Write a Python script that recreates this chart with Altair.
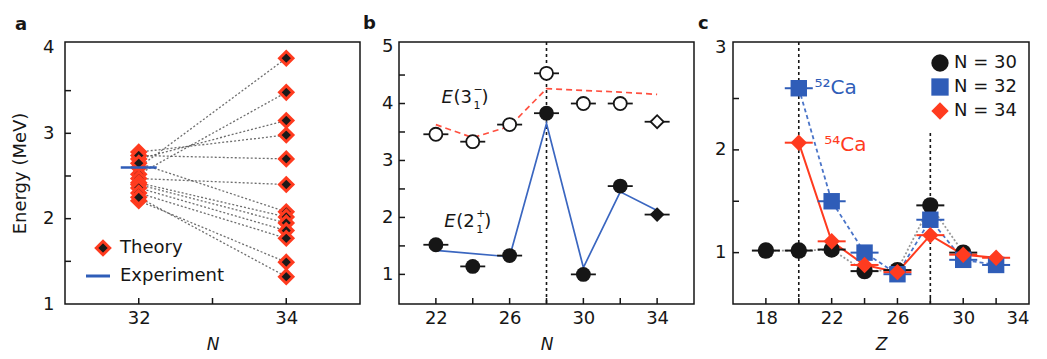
import altair as alt
import pandas as pd

FONT = "DejaVu Sans"

# ---------------- Panel a data ----------------
theory_N = [32, 34]
theory_32 = [2.60, 2.52, 2.70, 2.78, 2.74, 2.47, 2.65, 2.42, 2.40, 2.36, 2.30, 2.21, 2.25]
theory_34 = [3.88, 3.48, 3.15, 2.98, 2.70, 2.40, 2.08, 2.02, 1.95, 1.86, 1.77, 1.49, 1.32]
exp_N = [32]
exp_E = [2.60]

# ---------------- Panel b data ----------------
b_N = [22, 24, 26, 28, 30, 32, 34]
b_E3_exp = [3.46, 3.33, 3.63, 4.53, 4.00, 4.00, 3.68]
b_E2_exp = [1.52, 1.14, 1.33, 3.83, 1.00, 2.55, 2.05]
b_E3_th_N = [22, 24, 26, 28, 30, 32, 34]
b_E3_th = [3.63, 3.40, 3.60, 4.26, 4.23, 4.20, 4.16]
b_E2_th_N = [22, 26, 28, 30, 32, 34]
b_E2_th = [1.42, 1.31, 3.65, 1.12, 2.45, 2.12]
b_diamond_N = [34]
b_magic_N = [28]

# ---------------- Panel c data ----------------
c_series = ["N = 30", "N = 32", "N = 34"]
c_Z30 = [18, 20, 22, 24, 26, 28, 30]
c_E30 = [1.02, 1.02, 1.03, 0.82, 0.83, 1.46, 1.00]
c_Z32 = [20, 22, 24, 26, 28, 30, 32]
c_E32 = [2.60, 1.50, 1.00, 0.79, 1.32, 0.93, 0.88]
c_Z34 = [20, 22, 24, 26, 28, 30, 32]
c_E34 = [2.07, 1.11, 0.88, 0.81, 1.17, 0.98, 0.95]
c_magic_Z = [20]
c_magic2_Z = [28]
c_magic2_range = [0.5, 2.18]

W_A, W_B, W_C, H = 295, 295, 296, 262
BLUE = "#2f5db8"
RED = "#ff3b1f"
INK = "#161616"

xa = alt.Scale(domain=[31, 35], nice=False)
ya = alt.Scale(domain=[1, 4.07], nice=False)
xb = alt.Scale(domain=[20, 36], nice=False)
yb = alt.Scale(domain=[0.48, 5.08], nice=False)
xc = alt.Scale(domain=[16, 34], nice=False)
yc = alt.Scale(domain=[0.5, 3.05], nice=False)

ax_x_a = alt.Axis(values=[32, 34], title="N", titleFontStyle="italic", labelPadding=5,
                  titlePadding=9, titleFontSize=17)
ax_y_a = alt.Axis(values=[1, 2, 3, 4], title="Energy (MeV)", labelPadding=11, titlePadding=13)
ax_x_b = alt.Axis(values=[22, 26, 30, 34], title="N", titleFontStyle="italic", labelPadding=5,
                  titlePadding=9, titleFontSize=17)
ax_y_b = alt.Axis(values=[1, 2, 3, 4, 5], title=None, labelPadding=6)
ax_x_c = alt.Axis(values=[18, 22, 26, 30, 34], title="Z", titleFontStyle="italic", labelPadding=5,
                  titlePadding=9, titleFontSize=17)
ax_y_c = alt.Axis(values=[1, 2, 3], title=None, labelPadding=7)


def enc(xf, yf, xs, ys, axx, axy):
    return dict(x=alt.X(xf, scale=xs, axis=axx), y=alt.Y(yf, scale=ys, axis=axy))


def inner_ticks(xs, ys, xscale, yscale, axx, axy, L=6):
    xt = alt.Chart(pd.DataFrame({"v": xs})).mark_rule(color=INK, strokeWidth=1.5).encode(
        x=alt.X("v:Q", scale=xscale, axis=axx), y=alt.value(H), y2=alt.value(H - L))
    yt = alt.Chart(pd.DataFrame({"v": ys})).mark_rule(color=INK, strokeWidth=1.5).encode(
        y=alt.Y("v:Q", scale=yscale, axis=axy), x=alt.value(0), x2=alt.value(L))
    return [xt, yt]


def title(t, dx):
    return alt.TitleParams(t, anchor="start", frame="group", dx=dx, offset=5,
                           fontSize=18, font=FONT, fontWeight="bold", color=INK)


# ---------------- Panel a ----------------
rows = []
for i, (a, b) in enumerate(zip(theory_32, theory_34)):
    rows.append({"model": i, "N": theory_N[0], "E": a})
    rows.append({"model": i, "N": theory_N[1], "E": b})
df_a = pd.DataFrame(rows)
df_exp = pd.DataFrame({"N": exp_N, "E": exp_E})
EA = enc("N:Q", "E:Q", xa, ya, ax_x_a, ax_y_a)

a_lines = alt.Chart(df_a).mark_line(color="#555", strokeDash=[2, 2], strokeWidth=1.3, opacity=0.85).encode(
    detail="model:N", **EA)
a_pts = alt.Chart(df_a).mark_point(shape="diamond", filled=True, fill="#1a1a1a", stroke=RED,
                                   strokeWidth=3, size=180, opacity=1).encode(**EA)
a_exp = alt.Chart(df_exp).mark_point(shape="stroke", size=36 ** 2, stroke=BLUE, strokeWidth=2.5, opacity=1).encode(**EA)

leg_df = pd.DataFrame({"t": ["Theory"]})
leg_df2 = pd.DataFrame({"t": ["Experiment"]})
a_leg1 = alt.Chart(leg_df).mark_point(shape="diamond", filled=True, fill="#1a1a1a", stroke=RED,
                                      strokeWidth=3, size=180, opacity=1).encode(
    x=alt.value(38), y=alt.value(206))
a_leg1t = alt.Chart(leg_df).mark_text(align="left", baseline="middle", font=FONT, fontSize=18, color=INK).encode(
    x=alt.value(55), y=alt.value(206), text="t:N")
a_leg2 = alt.Chart(leg_df2).mark_point(shape="stroke", size=24 ** 2, stroke=BLUE, strokeWidth=3, opacity=1).encode(
    x=alt.value(33), y=alt.value(234))
a_leg2t = alt.Chart(leg_df2).mark_text(align="left", baseline="middle", font=FONT, fontSize=18, color=INK).encode(
    x=alt.value(55), y=alt.value(234), text="t:N")

panel_a = alt.layer(a_lines, a_pts, a_exp, a_leg1, a_leg1t, a_leg2, a_leg2t,
                    *inner_ticks([32, 33, 34], [1.5, 2, 2.5, 3, 3.5], xa, ya, ax_x_a, ax_y_a)).properties(
    width=W_A, height=H, title=title("a", -50))

# ---------------- Panel b ----------------
mk = ["diamond" if n in b_diamond_N else "circle" for n in b_N]
df_b3 = pd.DataFrame({"N": b_N, "E": b_E3_exp, "marker": mk})
df_b2 = pd.DataFrame({"N": b_N, "E": b_E2_exp, "marker": mk})
df_bexp = pd.concat([df_b3, df_b2])
df_b3t = pd.DataFrame({"N": b_E3_th_N, "E": b_E3_th})
df_b2t = pd.DataFrame({"N": b_E2_th_N, "E": b_E2_th})
EB = enc("N:Q", "E:Q", xb, yb, ax_x_b, ax_y_b)

b_vline = alt.Chart(pd.DataFrame({"N": b_magic_N})).mark_rule(color=INK, strokeDash=[3, 3], strokeWidth=1.6).encode(
    x=alt.X("N:Q", scale=xb, axis=ax_x_b))
b_l3 = alt.Chart(df_b3t).mark_line(color="#ff5040", strokeDash=[6, 4], strokeWidth=1.7).encode(**EB)
b_l2 = alt.Chart(df_b2t).mark_line(color="#3a66c0", strokeWidth=1.7).encode(**EB)
b_bars = alt.Chart(df_bexp).mark_point(shape="stroke", size=25 ** 2, color=INK, strokeWidth=1.8, opacity=1).encode(**EB)
b_open = alt.Chart(df_b3).mark_point(fill="white", filled=True, stroke=INK, strokeWidth=1.8, size=170, opacity=1).encode(
    shape=alt.Shape("marker:N", scale=None), **EB)
b_fill = alt.Chart(df_b2).mark_point(filled=True, color=INK, size=220, opacity=1).encode(
    shape=alt.Shape("marker:N", scale=None), **EB)


def state_label(xv, yv, core, sup, sub):
    d = pd.DataFrame({"N": [xv], "E": [yv], "e": ["E"], "p": [core],
                      "sup": [sup], "sub": [sub], "c": [")"]})
    base = alt.Chart(d).encode(**EB)
    t1 = base.mark_text(align="left", baseline="middle", font=FONT, fontSize=18, fontStyle="italic", color=INK).encode(text="e:N")
    t2 = base.mark_text(align="left", baseline="middle", font=FONT, fontSize=18, color=INK, dx=12).encode(text="p:N")
    t3 = base.mark_text(align="left", baseline="middle", font=FONT, fontSize=11, color=INK, dx=32, dy=-8).encode(text="sup:N")
    t4 = base.mark_text(align="left", baseline="middle", font=FONT, fontSize=11, color=INK, dx=32, dy=8).encode(text="sub:N")
    t5 = base.mark_text(align="left", baseline="middle", font=FONT, fontSize=18, color=INK, dx=40).encode(text="c:N")
    return [t1, t2, t3, t4, t5]


panel_b = alt.layer(b_vline, b_l3, b_l2, b_bars, b_open, b_fill,
                    *state_label(22.3, 4.1, "(3", "−", "1"),
                    *state_label(22.45, 1.92, "(2", "+", "1"),
                    *inner_ticks([22, 24, 26, 28, 30, 32, 34], [1, 1.5, 2, 2.5, 3, 3.5, 4, 4.5], xb, yb,
                                 ax_x_b, ax_y_b)).properties(
    width=W_B, height=H, title=title("b", -36))

# ---------------- Panel c ----------------
df_c = pd.concat([
    pd.DataFrame({"Z": c_Z30, "E": c_E30, "s": c_series[0]}),
    pd.DataFrame({"Z": c_Z32, "E": c_E32, "s": c_series[1]}),
    pd.DataFrame({"Z": c_Z34, "E": c_E34, "s": c_series[2]}),
])
col_scale = alt.Scale(domain=c_series, range=[INK, BLUE, RED])
shp_scale = alt.Scale(domain=c_series, range=["circle", "square", "diamond"])
EC = enc("Z:Q", "E:Q", xc, yc, ax_x_c, ax_y_c)

c_v1 = alt.Chart(pd.DataFrame({"Z": c_magic_Z})).mark_rule(color=INK, strokeDash=[3, 3], strokeWidth=1.6).encode(
    x=alt.X("Z:Q", scale=xc, axis=ax_x_c))
c_v2 = alt.Chart(pd.DataFrame({"Z": c_magic2_Z, "E": [c_magic2_range[0]], "E2": [c_magic2_range[1]]})).mark_rule(
    color=INK, strokeDash=[3, 3], strokeWidth=1.6).encode(y2="E2:Q", **EC)
c_l30 = alt.Chart(df_c).transform_filter(alt.datum.s == c_series[0]).mark_line(
    color="#9a9a9a", strokeDash=[2, 2], strokeWidth=1.8).encode(**EC)
c_l32 = alt.Chart(df_c).transform_filter(alt.datum.s == c_series[1]).mark_line(
    color="#4a74c8", strokeDash=[4, 3], strokeWidth=1.8).encode(**EC)
c_l34 = alt.Chart(df_c).transform_filter(alt.datum.s == c_series[2]).mark_line(
    color=RED, strokeWidth=2).encode(**EC)
c_bars = alt.Chart(df_c).mark_point(shape="stroke", size=28 ** 2, strokeWidth=2, opacity=1).encode(
    color=alt.Color("s:N", scale=col_scale, legend=None), **EC)
c_pts = alt.Chart(df_c).mark_point(filled=True, size=270, opacity=1).encode(
    color=alt.Color("s:N", scale=col_scale, title=None,
                    legend=alt.Legend(orient="top-right", offset=12, padding=0, labelFont=FONT, labelFontSize=18,
                                      labelColor=INK, symbolSize=300, symbolStrokeWidth=0, rowPadding=6,
                                      labelOffset=5)),
    shape=alt.Shape("s:N", scale=shp_scale, title=None), **EC)
ca_df = pd.DataFrame({"Z": [20.95, 21.55], "E": [2.6, 2.05], "iso": ["⁵²Ca", "⁵⁴Ca"], "s": c_series[1:]})
c_lab = alt.Chart(ca_df).mark_text(align="left", baseline="middle", font=FONT, fontSize=20).encode(
    text="iso:N", color=alt.Color("s:N", scale=col_scale, legend=None), **EC)

panel_c = alt.layer(c_v1, c_v2, c_l30, c_l32, c_l34, c_bars, c_pts, c_lab,
                    *inner_ticks([18, 20, 22, 24, 26, 28, 30, 32], [1, 1.5, 2, 2.5], xc, yc,
                                 ax_x_c, ax_y_c)).resolve_scale(
    color="independent", shape="independent").properties(width=W_C, height=H, title=title("c", -35))

chart = alt.hconcat(panel_a, panel_b, panel_c, spacing=39, bounds="flush").properties(
    padding={"left": 2, "top": 5, "right": 0, "bottom": 0}
).configure_view(stroke=INK, strokeWidth=1.5).configure_axis(
    labelFont=FONT, labelFontSize=18, titleFont=FONT, titleFontSize=18, titleFontWeight="normal",
    ticks=False, domain=False, grid=False, labelColor=INK, titleColor=INK)

chart.save("out.html", embed_options={"renderer": "svg", "actions": False})
